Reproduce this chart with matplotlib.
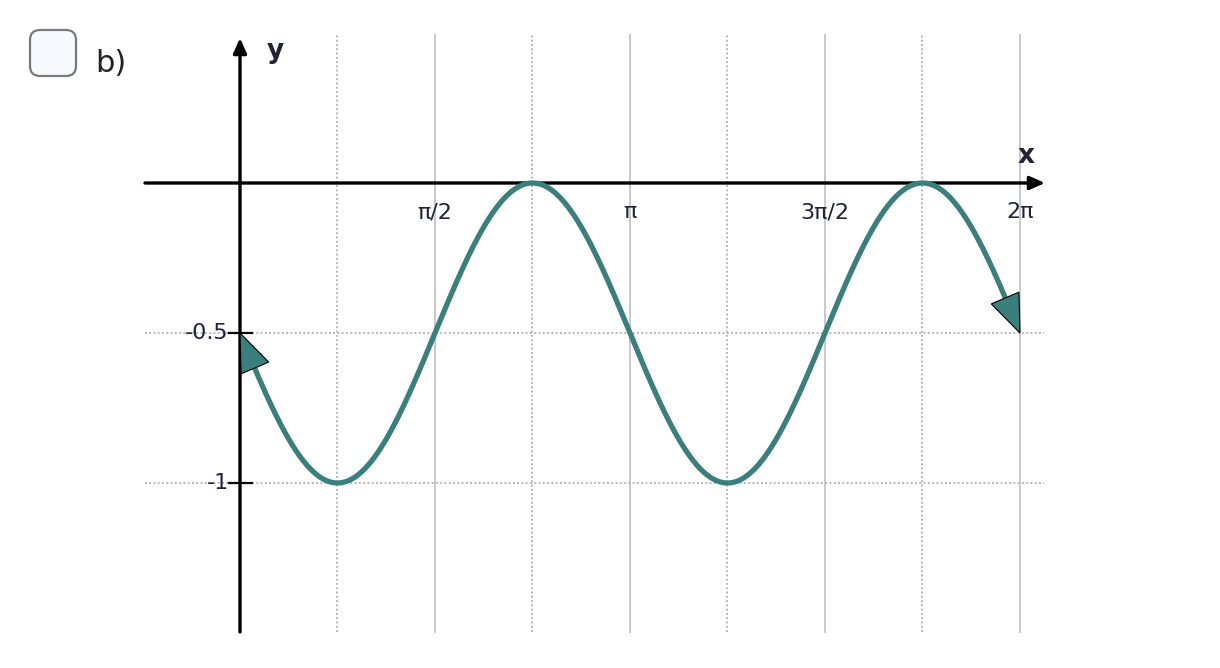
import numpy as np
import matplotlib.pyplot as plt
from matplotlib.patches import FancyBboxPatch, Polygon

# curve y = midline + amplitude * sin(freq * x + phase)
amplitude = -0.5
midline = -0.5
freq = 2.0
phase = 0.0
x_start, x_end = 0.0, 2 * np.pi

x_ticks = [np.pi / 2, np.pi, 3 * np.pi / 2, 2 * np.pi]
x_tick_labels = ["π/2", "π", "3π/2", "2π"]
y_ticks = [-0.5, -1.0]
y_tick_labels = ["-0.5", "-1"]
minor_grid = [np.pi / 4, 3 * np.pi / 4, 5 * np.pi / 4, 7 * np.pi / 4]

teal = "#3b7f7d"
ink = "#222238"

W, H = 1220, 668
fig = plt.figure(figsize=(W / 100, H / 100), dpi=100)
ax = fig.add_axes([0, 0, 1, 1])
ax.axis("off")

# pixel mapping: origin at (240, 183), pi/2 = 195 px, 0.5 = 150 px
sx = 195 / (np.pi / 2)
sy = 300.0
ox, oy = 240, 183
ax.set_xlim(-ox / sx, (W - ox) / sx)
ax.set_ylim(-(H - oy) / sy, oy / sy)

def px(x, y):
    return (x - ox) / sx, (oy - y) / sy

x_left, _ = px(145, 0)
x_right, _ = px(1045, 0)
_, y_top = px(0, 35)
_, y_bot = px(0, 632)

# grid
for gx in x_ticks:
    ax.plot([gx, gx], [y_bot, y_top], color="#c9c9c9", lw=1.4, zorder=1)
for gx in minor_grid:
    ax.plot([gx, gx], [y_bot, y_top], color="#b8b8b8", lw=1.4, ls=(0, (1, 1.2)), zorder=1)
for gy in y_ticks:
    ax.plot([x_left, x_right - 0.01], [gy, gy], color="#b8b8b8", lw=1.4, ls=(0, (1, 1.2)), zorder=1)

# axes with arrows
ax.annotate("", xy=(px(1045, 0)[0], 0), xytext=(x_left, 0),
            arrowprops=dict(arrowstyle="-|>,head_length=0.9,head_width=0.4",
                            color="black", lw=2.4, shrinkA=0, shrinkB=0), zorder=3)
ax.annotate("", xy=(0, px(0, 38)[1]), xytext=(0, y_bot),
            arrowprops=dict(arrowstyle="-|>,head_length=0.9,head_width=0.4",
                            color="black", lw=2.4, shrinkA=0, shrinkB=0), zorder=3)

ax.text(px(267, 0)[0], px(0, 51)[1], "y", fontsize=19, fontweight="bold",
        color=ink, ha="left", va="center")
ax.text(px(1026, 0)[0], px(0, 156)[1], "x", fontsize=19, fontweight="bold",
        color=ink, ha="center", va="center")

# y ticks
for gy, lab in zip(y_ticks, y_tick_labels):
    ax.plot([px(229, 0)[0], px(252, 0)[0]], [gy, gy], color="black", lw=1.6, zorder=3)
    ax.text(px(229, 0)[0], gy, lab, fontsize=16, color=ink, ha="right", va="center")

# x tick labels
for gx, lab in zip(x_ticks, x_tick_labels):
    ax.text(gx, px(0, 212)[1], lab, fontsize=16, color=ink, ha="center", va="center")

# curve
xs = np.linspace(x_start, x_end, 600)
ys = midline + amplitude * np.sin(freq * xs + phase)
ax.plot(xs[8:-8], ys[8:-8], color=teal, lw=3.8, solid_capstyle="round", zorder=4)

# arrow heads at both ends
def head(i_tip, i_back):
    tx, ty = xs[i_tip], ys[i_tip]
    bx, by = xs[i_back], ys[i_back]
    d = np.array([(tx - bx) * sx, (ty - by) * sy])
    d /= np.hypot(*d)
    n = np.array([-d[1], d[0]])
    L, hw = 38, 15
    pts = []
    for v in [np.zeros(2), -L * d + hw * n, -L * d - hw * n]:
        pts.append((tx + v[0] / sx, ty + v[1] / sy))
    ax.add_patch(Polygon(pts, closed=True, fc=teal, ec="black", lw=0.8, zorder=5))

head(0, 20)
head(len(xs) - 1, len(xs) - 21)

# checkbox and label
cb = FancyBboxPatch(px(30, 76), 46 / sx, 46 / sy,
                    boxstyle=f"round,pad=0,rounding_size={10 / sx}",
                    fc="#f7f9ff", ec="#7a7a7a", lw=1.6, zorder=5,
                    mutation_aspect=sx / sy)
ax.add_patch(cb)
ax.text(px(95, 0)[0], px(0, 63)[1], "b)", fontsize=22, color="#222222",
        ha="left", va="center")

fig.savefig("out.png", dpi=100)
